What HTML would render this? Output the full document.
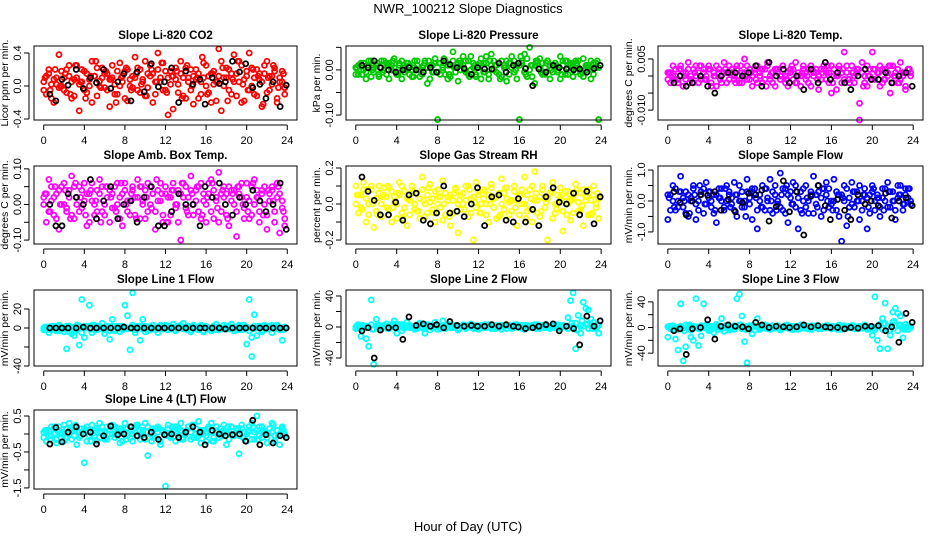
<!DOCTYPE html>
<html><head><meta charset="utf-8">
<style>
html,body{margin:0;padding:0;background:#fff;}
svg{display:block;font-family:"Liberation Sans",sans-serif;}
</style></head>
<body>
<svg id="chart" width="936" height="540" viewBox="0 0 936 540" xmlns="http://www.w3.org/2000/svg">
<text x="468" y="13" text-anchor="middle" font-size="13">NWR_100212  Slope Diagnostics</text>
<text x="468" y="531" text-anchor="middle" font-size="13">Hour of Day (UTC)</text>
</svg>
<script>
const hours=[0,.25,.5,.75,1,1.25,1.5,1.75,2,2.25,2.5,2.75,
3,3.25,3.5,3.75,4,4.25,4.5,4.75,5,5.25,5.5,5.75,
6,6.25,6.5,6.75,7,7.25,7.5,7.75,8,8.25,8.5,8.75,
9,9.25,9.5,9.75,10,10.25,10.5,10.75,11,11.25,11.5,11.75,
12,12.25,12.5,12.75,13,13.25,13.5,13.75,14,14.25,14.5,14.75,
15,15.25,15.5,15.75,16,16.25,16.5,16.75,17,17.25,17.5,17.75,
18,18.25,18.5,18.75,19,19.25,19.5,19.75,20,20.25,20.5,20.75,
21,21.25,21.5,21.75,22,22.25,22.5,22.75,23,23.25,23.5,23.75];
const hoursC=[0.125,0.625,1.125,1.625,2.125,2.625,3.125,3.625,4.125,4.625,5.125,5.625,
6.125,6.625,7.125,7.625,8.125,8.625,9.125,9.625,10.125,10.625,11.125,11.625,
12.125,12.625,13.125,13.625,14.125,14.625,15.125,15.625,16.125,16.625,17.125,17.625,
18.125,18.625,19.125,19.625,20.125,20.625,21.125,21.625,22.125,22.625,23.125,23.625];
const blackHours=[0.6,1.2,1.8,2.4,3.2,3.9,4.6,5.2,5.9,6.6,7.3,7.9,
8.6,9.2,9.9,10.6,11.3,11.9,12.6,13.3,14.0,14.7,15.4,15.9,
16.6,17.3,17.9,18.6,19.3,19.9,20.6,21.3,21.9,22.6,23.3,23.9];
const xTicks=[0,4,8,12,16,20,24];

const co2A=[.05,-.1,.15,.02,-.2,.1,.38,0,-.05,.2,.12,-.15,.08,.25,-.3,.05,.18,-.08,0,.3,.12,-.12,.06,.22,-.02,.15,-.25,.1,.02,-.1,.28,.05,.18,-.18,0,.12,.35,-.05,.2,.08,-.12,.15,.25,-.2,.05,.4,.1,-.05,.18,-.35,.02,.12,.22,-.08,.3,.1,-.15,.05,.2,-.22,.08,.15,-.1,.28,0,.12,-.2,.18,.05,.45,-.3,.1,.22,-.05,.15,.38,-.12,.05,.25,-.18,.12,.4,0,-.1,.2,.08,-.25,.15,.3,-.05,.12,.22,-.15,.05,.18,-.02];
const co2B=[-.05,.12,.2,-.15,.08,.02,-.02,.18,.1,-.08,.25,.05,-.12,.1,.02,.2,-.05,.15,.08,-.2,.12,.22,0,.1,.15,-.05,.08,.25,-.1,.18,0,.12,-.15,.2,.08,-.02,.1,.22,-.08,.05,.3,-.02,.12,.15,-.1,.2,.05,.28,-.05,.1,.18,-.28,.08,.02,.15,-.12,.22,.1,-.05,.12,.2,-.15,.05,.1,.25,-.08,.15,.02,-.18,.12,.3,0,.1,.2,-.1,.05,.15,.3,-.2,.08,.18,-.05,.22,.1,-.12,.15,.05,.25,-.08,.12,.02,.18,-.2,.1,.05,-.1];
const co2C=[.1,-.05,.2,0,.15,-.1,.25,.05,-.15,.12,.3,-.02,.18,.08,-.2,.1,.22,-.05,.15,.02,-.12,.2,.05,.28,-.08,.12,.18,-.15,.25,0,.1,.35,-.1,.15,.05,.22,-.18,.08,.3,.02,-.05,.2,.12,-.22,.1,.25,-.02,.15];
const co2K=[-.1,-.18,.08,.01,.2,-.03,.1,.04,.2,-.03,.05,.15,-.18,.17,-.07,.27,-.01,.05,.22,-.2,.18,.02,.08,-.22,.1,.03,.05,.3,.17,.27,-.02,.02,-.15,.05,-.25,.01];

const presA=[.005,-.01,.015,0,-.02,.01,.02,-.005,.01,-.015,.005,.02,-.01,.015,0,.025,-.005,.01,-.02,.005,.015,-.01,0,.02,.01,-.015,.005,.02,-.03,.01,-.005,.015,-.11,-.01,.005,.02,-.02,.01,.04,-.005,.015,0,.03,.02,-.01,.03,.005,-.015,.01,.025,-.005,.015,-.02,.035,0,.01,-.01,.02,.005,-.025,.015,.03,-.005,.01,-.11,.02,.035,-.015,.05,.01,-.03,.015,.025,-.01,.005,.02,-.02,.01,.015,-.005,.03,.02,-.01,.005,.015,-.015,.02,.005,-.01,.025,0,.01,-.02,.015,.005,-.11];
const presB=[-.01,.01,0,.015,-.005,.02,-.015,.005,.01,-.01,.02,0,.015,-.02,.01,.005,-.01,.015,.02,-.005,0,.01,-.015,.005,.02,0,-.01,.015,.005,-.02,.01,.025,-.005,.015,0,-.01,.01,-.015,.02,.005,-.025,.015,.01,-.005,.02,0,.015,-.01,.005,-.02,.015,.03,-.01,.01,.02,-.005,.015,-.015,.01,.02,-.01,.005,.02,-.02,.01,.015,-.005,.025,0,-.015,.01,.02,.005,.015,-.01,.02,.01,-.005,.015,0,-.02,.01,.02,-.01,.01,.015,-.005,.02,0,-.015,.01,.005,.02,-.01,.015,.005];
const presC=[.005,-.01,.01,0,.015,-.005,.01,.02,-.01,.005,.015,-.015,0,.01,.02,-.005,.015,.025,-.01,.005,.02,0,-.015,.01,.015,-.005,.02,.01,-.02,.005,.015,0,.03,-.01,.01,.02,-.005,.015,0,.01,-.01,.02,.005,.015,-.005,.01,0,.02];
const presK=[.01,.005,.02,.005,0,-.005,0,.005,0,-.005,.005,-.005,.02,.012,.005,.003,-.01,.005,.002,.002,.015,-.005,.01,.015,.003,-.035,.002,-.005,.01,.005,.002,0,.002,-.005,.003,.01];

const tempA=[.001,-.002,.003,0,-.001,.002,-.003,.001,.004,-.001,.002,0,-.002,.003,.001,-.001,.002,-.003,0,.003,.001,-.002,.004,.001,-.001,.002,0,.003,-.002,.001,.005,-.001,.002,-.003,.001,.003,0,-.002,.002,.004,-.001,.001,-.003,.002,0,.003,-.002,.001,.002,-.001,.004,0,-.003,.002,.001,-.002,.003,0,.001,-.004,.002,.003,-.001,.001,-.005,.002,0,.003,-.002,.007,.001,-.001,.003,-.002,.001,-.008,.004,0,-.003,.002,.007,-.001,.001,.003,-.002,.002,0,-.005,.003,.001,-.002,.004,0,-.003,.002,.001];
const tempB=[-.001,.001,0,.002,-.002,.003,.001,-.001,.002,0,-.002,.003,.001,-.001,.002,0,.003,-.002,.001,-.003,.002,0,.001,-.002,.003,.001,-.001,.002,0,-.002,.001,.003,-.001,0,.002,-.002,.001,.002,-.001,.003,0,-.002,.002,.001,-.001,.003,0,-.003,.001,.002,-.002,.001,0,.003,-.001,.002,-.003,.001,.002,0,-.001,.002,.001,-.002,.003,0,-.004,.002,.001,-.001,.003,-.002,.001,0,.002,-.013,.001,-.002,.003,0,-.001,.002,.001,-.003,.002,-.001,.001,.003,-.002,0,.002,-.001,.001,-.004,.002,0];
const tempC=[.001,-.001,.002,0,-.002,.001,.003,-.001,.002,0,-.001,.002,.001,-.002,.003,0,.001,-.001,.002,-.003,.001,.002,0,-.001,.003,-.002,.001,0,.002,-.001,.001,.003,-.002,0,.002,-.001,.001,.002,-.003,0,.002,.001,-.001,.003,0,-.002,.001,.002];
const tempK=[-.002,0,-.003,-.002,0,-.003,-.005,0,.001,.001,0,.001,.003,-.003,.004,0,.002,-.002,0,-.004,.002,-.002,.004,-.001,.001,-.002,-.004,0,.002,-.001,-.001,.001,-.002,0,.001,-.003];

const ambA=[.02,-.05,.07,.01,-.03,.03,-.07,.05,0,-.02,.04,.08,-.04,.02,.05,-.01,.06,-.06,.03,.01,-.03,.04,.07,-.02,0,.05,-.05,.03,-.01,.06,.02,-.06,.04,.01,-.03,.05,.02,.07,-.04,0,.04,-.02,.05,.03,-.07,.01,.06,-.03,.03,-.05,.02,.06,-.01,.04,-.1,.02,.05,-.03,.08,0,.04,-.02,.06,.01,-.05,.03,.07,-.04,.02,.09,-.02,.05,.03,-.06,.04,0,-.09,.05,.02,-.04,.06,.01,-.03,.07,.02,-.05,.04,0,-.07,.03,.05,-.02,.06,-.08,.01,-.06];
const ambB=[0,.03,-.02,.05,.02,-.04,.04,0,.06,-.01,.02,-.03,.05,0,-.02,.04,.01,.03,-.05,.06,0,-.02,.03,.05,-.03,.02,.04,-.01,.05,0,-.04,.03,.06,-.02,.01,.04,-.03,.02,.05,.01,-.04,.06,0,.03,-.02,.04,.01,-.05,.05,.02,-.03,.04,0,-.05,.03,.06,-.01,.02,.04,-.03,.01,.05,-.04,.03,0,.06,-.02,.04,.01,-.05,.03,.02,-.03,.05,.01,.04,-.02,.03,.06,-.01,.02,-.04,.05,0,.04,-.02,.03,.05,-.03,.01,.04,-.05,.02,.03,-.01,-.04];
const ambC=[.03,-.02,.05,0,.04,-.04,.06,.02,-.03,.04,.01,-.05,.05,.02,-.02,.06,0,.03,-.04,.05,.02,-.01,.07,.03,-.05,.04,0,.06,-.02,.03,.05,-.03,.02,.06,-.01,.04,-.04,.03,.05,0,-.02,.06,.02,-.03,.04,.01,.05,-.02];
const ambK=[0,-.06,-.06,.03,.02,0,.07,-.04,.01,.05,-.04,0,.01,-.05,.02,.05,-.06,-.06,-.02,.03,0,0,-.06,.05,.02,.06,0,-.03,.02,0,.04,.01,-.02,0,.06,-.07];

const rhA=[.1,-.05,.05,.12,-.1,0,.08,-.13,.03,.1,-.07,.05,-.02,.09,-.1,.04,0,.12,-.05,.07,-.12,.02,.1,-.03,.06,-.08,.15,0,-.05,.11,.03,-.1,.08,-.02,.13,-.06,.04,-.12,.02,.09,-.16,.05,0,.1,-.07,.03,-.2,.12,.05,-.05,.08,0,-.1,.11,.03,-.08,.06,.14,-.03,.09,-.06,.02,.1,-.12,.05,0,.15,-.04,.08,-.1,.18,.02,-.07,.1,.03,-.2,.06,.12,-.05,0,.09,-.15,.04,.07,-.09,.03,.11,-.04,.06,-.12,.02,.08,-.06,.1,0,-.08];
const rhB=[0,.05,-.02,.08,.03,-.06,.1,.02,-.04,.06,0,.09,.04,-.03,.07,.01,-.08,.05,.1,-.02,.03,-.06,.06,0,-.04,.03,.08,-.07,.05,.01,-.03,.07,0,.04,-.09,.06,.02,.05,-.05,.08,0,-.03,.06,.02,.1,-.05,.04,-.02,.07,0,.03,-.06,.05,.09,-.02,.04,-.07,0,.06,.03,.01,-.04,.07,.02,-.06,.08,0,.05,-.03,.1,.02,-.05,.04,.08,-.02,.03,.06,-.08,0,.05,.02,-.04,.07,0,.03,-.05,.06,.01,-.03,.08,.04,-.06,.02,.05,-.02,.03];
const rhC=[.05,-.03,.08,0,-.06,.04,.1,-.02,.06,-.08,.03,.07,-.04,.02,.09,-.05,.04,0,-.07,.06,.02,-.03,.08,.01,-.05,.07,0,.04,-.06,.09,.02,-.02,.05,-.08,.03,.06,-.04,.01,.07,-.03,.05,-.06,.02,.08,-.01,.04,-.05,.06];
const rhK=[.15,.07,.02,-.06,-.06,.01,-.09,.05,.06,-.09,-.11,-.05,.1,-.05,-.04,-.07,0,.09,-.12,.04,.05,-.09,-.1,.03,-.1,-.03,-.12,.04,.09,.01,0,.06,-.06,.07,-.11,.04];

const flowA=[-.6,.2,.5,-.3,0,.8,-.2,.3,-.5,.1,.4,-.6,0,.3,-.4,.6,.1,-.2,.2,-.7,.4,0,-.3,.5,.2,-.1,.6,-.5,0,.3,-.2,.7,.1,-.6,.4,-.9,.2,.5,-.3,0,.7,-.4,.2,-.1,.9,-.3,.4,-.7,.1,.6,-.2,-.9,.3,0,.5,-.4,.2,.8,-.1,.3,-.5,.4,.6,-.2,0,.7,-.3,.2,-1.3,.5,-.8,.1,.6,-.2,.3,-.6,0,.4,-.9,.2,.5,-.3,.1,-.5,.4,0,.6,-.2,.3,-.6,.1,.5,-.3,.2,.4,-.1];
const flowB=[.2,-.3,0,.4,-.2,.3,.1,-.4,.2,0,.5,-.1,-.3,.2,.4,-.1,.3,0,-.4,.2,.1,.4,-.2,0,.3,.1,-.3,.2,.5,-.2,0,.3,-.1,.4,.2,-.3,0,-.2,.4,.1,-.3,.3,.5,0,-.2,.4,-.4,.2,.3,-.1,.5,.1,-.3,.4,-.2,0,.3,-.4,.2,.5,.1,-.3,.2,.4,-.1,0,.3,-.5,.2,0,.4,-.2,-.1,.3,0,.5,-.3,.2,.1,-.4,.3,0,.2,-.2,.1,.4,-.2,.3,0,-.3,.5,.2,-.1,.4,.1,0];
const flowC=[.1,-.2,.3,0,-.4,.2,.5,-.1,.3,-.3,.1,.4,-.2,.2,0,-.5,.3,.1,-.2,.4,0,-.3,.2,.5,-.1,.3,-.4,.1,.2,-.2,.4,0,-.3,.2,.1,-.5,.3,0,.2,-.2,.4,.1,-.3,.3,0,.2,-.1,.4];
const flowK=[.3,-.05,-.45,0,.2,.18,.3,-.3,.05,-.35,-.05,.25,.2,.35,-.65,-.18,.65,-.35,.3,-1.1,.15,.5,-.15,-.6,.05,-.3,-.6,.2,-.1,0,-.15,.25,-.55,0,.1,-.15];

const l1A=[-2,1,-5,2,0,-3,3,-1,-4,-22,2,-6,-8,3,-18,30,-10,2,24,-5,3,-2,1,5,-6,2,-12,9,-3,1,-4,2,24,13,-23,37,-5,2,-13,9,-4,1,-2,3,0,-5,2,-1,3,-2,1,4,-3,2,0,5,-1,2,-4,3,1,-2,3,-4,2,0,-3,1,4,-2,0,3,-1,2,4,-3,0,2,-2,3,-17,30,-30,14,-8,2,-4,3,-1,2,-5,1,3,-2,-13,1];
const l1B=[0,-1,1,-2,2,0,-3,1,-1,2,-4,0,1,-2,2,-5,0,1,-1,3,-2,0,2,-1,0,1,-3,2,-1,0,2,-2,1,-1,0,3,-2,1,0,-1,2,-3,1,0,-2,1,3,-1,0,2,-1,1,-2,0,3,-1,1,0,-2,2,-1,0,1,-3,2,0,-1,2,-2,1,0,-1,2,-1,0,1,-2,3,0,-1,1,-3,-10,2,0,1,-2,2,-1,0,3,-1,1,-2,0,1];
const l1C=[1,-2,0,2,-1,1,-3,0,2,-1,1,0,-2,1,2,-1,0,1,-2,2,0,-1,1,0,2,-1,0,1,-2,1,0,2,-1,0,1,-1,2,0,-2,1,0,-1,2,1,-1,0,1,-2];
const l1K=[0,0,0,0,0,1,0,0,0,0,0,1,0,0,0,0,0,0,0,0,0,0,0,0,0,0,-1,0,0,0,0,0,0,0,0,0];

const l2A=[-2,3,-12,1,-15,-25,35,-48,10,2,-3,1,4,-2,0,8,-8,3,-5,2,6,-1,1,-3,2,5,-1,-8,3,-4,2,6,-3,1,8,-2,0,3,-1,2,-4,1,3,-2,0,4,-1,2,-3,1,2,-1,3,0,-2,2,1,-3,0,2,1,-2,3,0,-1,2,-3,1,0,2,-1,3,-2,1,3,-1,0,2,-1,3,-2,1,0,12,34,44,-28,15,-8,32,24,22,10,6,-2,-8];
const l2B=[0,1,-2,2,-1,0,3,-3,1,0,-2,2,1,-1,0,2,-2,1,3,-1,0,2,-1,1,-2,0,2,-1,3,0,-1,1,2,-2,0,1,3,-1,0,2,-2,1,0,-1,2,1,-2,0,1,2,-1,0,3,-2,1,0,-1,2,0,-2,2,1,-1,3,0,-2,1,2,-1,0,3,-1,0,2,-1,1,-2,0,3,1,-1,2,0,-2,1,0,5,-3,2,1,4,-2,3,1,0,2];
const l2C=[2,-1,1,-3,3,0,-2,4,1,-1,2,0,3,-2,1,2,-1,0,3,1,-2,2,0,1,-1,3,0,-2,2,1,0,3,-1,2,0,-2,1,3,0,-1,2,1,5,-4,8,3,-2,4];
const l2K=[-5,-1,-40,-4,-1,-1,-16,13,2,4,1,3,-1,7,2,1,2,1,1,3,1,3,1,0,-2,-1,1,3,4,-5,1,-2,-23,14,1,8];

const l3A=[-15,2,-3,-18,-35,37,-52,-30,3,-15,-20,45,-28,-13,37,4,-5,2,-8,5,-3,14,-6,2,-4,-2,3,45,52,18,-22,-55,3,-10,2,14,-3,1,4,-2,0,3,-1,2,-4,1,3,0,-2,2,1,-3,4,0,-1,2,-3,1,3,-2,0,2,-1,3,-2,1,0,4,-3,2,-1,1,3,-2,0,2,-1,4,-3,1,-12,48,-20,-33,14,38,-33,-12,24,30,22,18,-16,5,-3,2];
const l3B=[1,-2,3,0,-3,2,-1,4,0,-4,2,1,-2,3,0,-1,2,-3,1,0,3,-2,1,-1,2,0,-3,1,4,-2,0,2,-1,3,-4,1,0,2,-1,1,-3,2,0,3,-2,1,0,-1,2,-3,1,0,2,-1,3,-2,1,0,-1,2,-2,1,3,0,-1,2,-2,1,0,3,-1,2,0,-2,1,2,-1,3,0,-2,1,-3,2,5,-3,6,2,-4,8,3,-5,4,1,-2,3,0];
const l3C=[2,-3,1,-5,4,0,-2,3,-4,2,0,3,-2,1,4,-3,0,2,-1,3,-2,1,0,4,-3,2,1,-2,3,0,-1,2,1,-3,2,0,3,-2,1,0,-1,2,6,-5,10,4,-3,2];
const l3K=[-5,-2,-42,-2,0,12,-18,2,4,2,1,-2,8,4,0,2,1,0,1,4,1,3,1,0,0,-2,0,-1,2,2,3,-5,1,-23,22,8];

const l4A=[.05,-.2,.1,-.05,.15,-.25,.2,0,.25,-.1,.3,-.15,.1,-.3,.05,.15,-.8,.2,-.05,.25,.1,-.2,.3,.05,-.15,.2,0,.25,-.1,.15,-.25,.1,.3,-.05,.2,-.2,.05,.25,-.15,.1,.3,-.6,0,.15,-.1,.2,-.3,.05,-1.45,.25,-.05,.1,-.2,.15,.3,-.1,.05,.2,-.15,.25,0,.35,-.25,.1,-.05,.2,.3,-.2,.05,-.1,.15,.25,-.3,.1,.2,-.05,.15,-.55,.25,.05,-.2,.1,.3,-.15,.5,.2,-.1,.05,-.25,.15,.3,-.05,.1,-.3,.2,0];
const l4B=[-.1,.1,-.05,.2,0,-.15,.1,.05,-.2,.15,0,.1,-.05,.2,-.1,.05,.15,-.2,.1,0,-.05,.15,-.1,.2,.05,-.15,.1,0,.2,-.05,.1,-.2,.05,.15,-.1,0,.2,-.05,.1,.05,-.15,.2,0,-.1,.15,.05,-.2,.1,0,.15,-.1,.05,.2,-.05,.1,-.15,0,.2,.05,-.1,.15,-.05,.1,0,-.2,.15,.05,-.1,.2,0,-.05,.1,.05,-.15,.2,0,.1,-.05,.15,-.1,0,.2,-.15,.05,.1,-.05,.2,0,-.1,.15,.05,-.2,.1,0,.15,-.05];
const l4C=[.1,-.15,.2,0,-.1,.15,.25,-.05,.1,-.2,.15,.05,-.1,.2,0,.15,-.15,.1,.25,-.05,.05,-.2,.15,.1,-.05,.2,0,-.15,.1,.25,-.1,.05,.15,-.2,.1,0,.2,-.05,.15,-.1,.05,.2,-.15,.1,0,.25,-.05,.1];
const l4K=[-.28,.18,-.22,.05,.2,0,.05,-.28,-.05,.22,-.02,0,.2,-.05,-.1,.05,-.15,-.02,0,-.1,.05,.2,.05,-.3,.1,0,-.05,-.02,0,-.2,.38,-.3,-.02,-.25,-.05,-.1];

const titles=["Slope Li-820 CO2","Slope Li-820 Pressure","Slope Li-820 Temp.","Slope Amb. Box Temp.","Slope Gas Stream RH","Slope Sample Flow","Slope Line 1 Flow","Slope Line 2 Flow","Slope Line 3 Flow","Slope Line 4 (LT) Flow"];
const yTitles=["Licor ppm per min.","kPa per min.","degrees C per min.","degrees C per min.","percent per min.","mV/min per min.","mV/min per min.","mV/min per min.","mV/min per min.","mV/min per min."];
const yTicks=[[-0.4,0,0.4],[-0.10,-0.05,0,0.05],[-0.010,-0.005,0,0.005],[-0.10,-0.05,0,0.05,0.10],[-0.2,-0.1,0,0.1,0.2],[-1,-0.5,0,0.5,1],[-40,-20,0,20],[-40,-20,0,20,40],[-40,-20,0,20,40],[-1.5,-1,-0.5,0,0.5]];
const yTickLabels=[["-0.4","0.0","0.4"],["-0.10","","0.00",""],["-0.010","","","0.005"],["-0.10","","0.00","","0.10"],["-0.2","","0.0","","0.2"],["-1.0","","0.0","","1.0"],["-40","","0","20"],["-40","","0","","40"],["-40","","0","","40"],["-1.5","","-0.5","","0.5"]];
const yDomains=[[-0.412,0.485],[-0.111,0.053],[-0.0129,0.0088],[-0.111,0.108],[-0.222,0.211],[-1.39,1.13],[-40,40],[-50.3,47.7],[-60,58.5],[-1.53,0.667]];
const colorSeriesA=[co2A,presA,tempA,ambA,rhA,flowA,l1A,l2A,l3A,l4A];
const colorSeriesB=[co2B,presB,tempB,ambB,rhB,flowB,l1B,l2B,l3B,l4B];
const colorSeriesC=[co2C,presC,tempC,ambC,rhC,flowC,l1C,l2C,l3C,l4C];
const blackSeries=[co2K,presK,tempK,ambK,rhK,flowK,l1K,l2K,l3K,l4K];
const colors=["#ff0000","#00c800","#ff00ff","#ff00ff","#ffff00","#0000ff","#00ffff","#00ffff","#00ffff","#00ffff"];

const NS="http://www.w3.org/2000/svg";
const svg=document.getElementById('chart');
const colX=[[34,297],[346,611],[658,923]];
const rowY=[[46,120],[166,244],[290,366],[410,489]];
function mk(tag,attrs,parent){const e=document.createElementNS(NS,tag);for(const k in attrs)e.setAttribute(k,attrs[k]);(parent||svg).appendChild(e);return e;}

for(let p=0;p<10;p++){
  const c=p%3, r=Math.floor(p/3);
  const [x0,x1]=colX[c], [y0,y1]=rowY[r];
  const g=mk('g',{});
  
  
  const xs=h=>x0+(h+0.96)/25.92*(x1-x0);
  const [dmin,dmax]=yDomains[p];
  const ys=v=>y1-(v-dmin)/(dmax-dmin)*(y1-y0);
  const t=mk('text',{x:(x0+x1)/2,y:y0-7,'text-anchor':'middle','font-size':'11.5','font-weight':'bold'},g);
  t.textContent=titles[p];
  
  
  const pts=mk('g',{fill:'none','stroke-width':'1.8'},g);
  
  
  [[colorSeriesA[p],hours],[colorSeriesB[p],hours],[colorSeriesC[p],hoursC]].forEach(([arr,hh])=>{
    const n=Math.min(arr.length,hh.length);
    for(let i=0;i<n;i++){
      const v=Math.max(dmin,Math.min(dmax,arr[i]));
      const cc=mk('circle',{cx:xs(hh[i]),cy:ys(v),r:2.5,stroke:colors[p]},pts);
      
      
    }
  });
  const bk=blackSeries[p];
  for(let i=0;i<Math.min(bk.length,blackHours.length);i++){
    const cc=mk('circle',{cx:xs(blackHours[i]),cy:ys(bk[i]),r:2.5,stroke:'#000'},pts);
    
    
  }
  const b=mk('rect',{x:x0,y:y0,width:x1-x0,height:y1-y0,fill:'none',stroke:'#000','stroke-width':'1'},g);
  
  
  const xa=mk('g',{},g);
  
  
  mk('line',{x1:xs(xTicks[0]),x2:xs(xTicks[xTicks.length-1]),y1:y1+5,y2:y1+5,stroke:'#000'},xa);
  xTicks.forEach(tv=>{
    const X=xs(tv);
    mk('line',{x1:X,x2:X,y1:y1+5,y2:y1+10,stroke:'#000'},xa);
    const tl=mk('text',{x:X,y:y1+24,'text-anchor':'middle','font-size':'11'},xa);
    tl.textContent=tv;
    
    
  });
  const ya=mk('g',{},g);
  
  
  const tk=yTicks[p];
  mk('line',{x1:x0-5,x2:x0-5,y1:ys(tk[0]),y2:ys(tk[tk.length-1]),stroke:'#000'},ya);
  tk.forEach((tv,i)=>{
    const Y=ys(tv);
    mk('line',{x1:x0-10,x2:x0-5,y1:Y,y2:Y,stroke:'#000'},ya);
    if(yTickLabels[p][i]){
      const tl=mk('text',{x:0,y:0,'text-anchor':'middle','font-size':'11',transform:`translate(${x0-13},${Y}) rotate(-90)`},ya);
      tl.textContent=yTickLabels[p][i];
      
      
    }
  });
  const yt=mk('text',{x:0,y:0,'text-anchor':'middle','font-size':'10.5',transform:`translate(${x0-26},${(y0+y1)/2}) rotate(-90)`},g);
  yt.textContent=yTitles[p];
  
  
}
</script>
</body></html>
